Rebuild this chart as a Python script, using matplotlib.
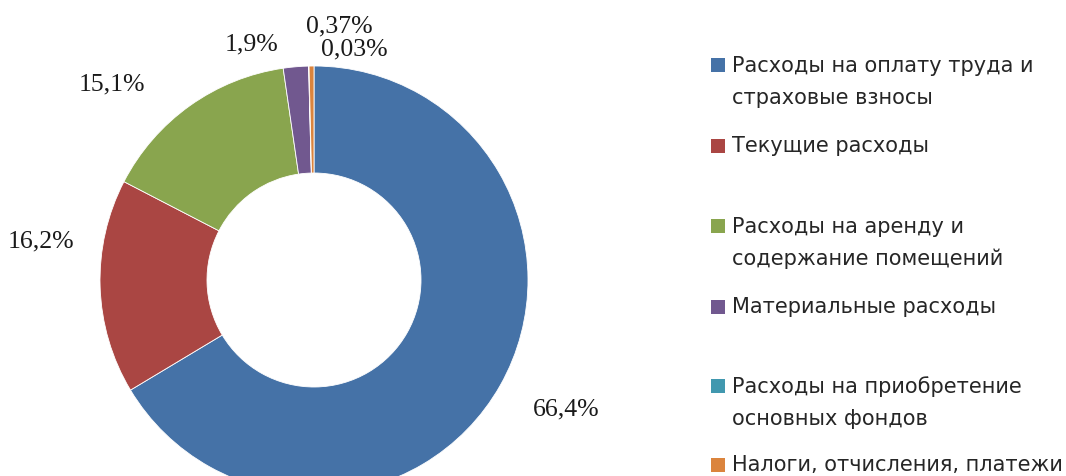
import matplotlib
matplotlib.use('Agg')
import matplotlib.pyplot as plt
from matplotlib.patches import Rectangle

# data
categories = ['Расходы на оплату труда и\nстраховые взносы',
              'Текущие расходы',
              'Расходы на аренду и\nсодержание помещений',
              'Материальные расходы',
              'Расходы на приобретение\nосновных фондов',
              'Налоги, отчисления, платежи']
shares = [66.4, 16.2, 15.1, 1.9, 0.03, 0.37]
share_labels = ['66,4%', '16,2%', '15,1%', '1,9%', '0,03%', '0,37%']
colors = ['#4572A7', '#AA4643', '#89A54E', '#71588F', '#4198AF', '#DB843D']

# label spots in units of the outer radius (style only)
label_pos = [(1.178, -0.607), (-1.276, 0.182), (-0.944, 0.916), (-0.294, 1.103),
             (0.187, 1.075), (0.117, 1.187)]

W, H = 1066, 476
cx, cy, R = 314, 280, 214  # pixel centre / radius of the donut

fig = plt.figure(figsize=(W / 100, H / 100), dpi=100)
ax = fig.add_axes([0, 0, 1, 1])
ax.pie(shares, colors=colors, startangle=90, counterclock=False,
       radius=1.0, wedgeprops=dict(width=0.5, edgecolor='white', linewidth=0.6))
ax.set_aspect('auto')
ax.set_xlim(-cx / R, (W - cx) / R)
ax.set_ylim(-(H - cy) / R, cy / R)
ax.axis('off')

for txt, (x, y) in zip(share_labels, label_pos):
    ax.text(x, y, txt, ha='center', va='center', fontsize=18.5,
            family='Liberation Serif', color='#1a1a1a')

# legend drawn by hand to keep the Excel spacing
leg_y = [82, 146, 243, 307, 403, 465]
for name, c, py in zip(categories, colors, leg_y):
    first_line = py - 17 if '\n' in name else py
    fig.patches.append(Rectangle((711 / W, 1 - (first_line + 7) / H), 14 / W, 14 / H,
                                 transform=fig.transFigure, facecolor=c, edgecolor='none'))
    fig.text(732 / W, 1 - py / H, name, ha='left', va='center', fontsize=15,
             family='DejaVu Sans', color='#262626', linespacing=1.75)

fig.savefig('out.png', dpi=100)
